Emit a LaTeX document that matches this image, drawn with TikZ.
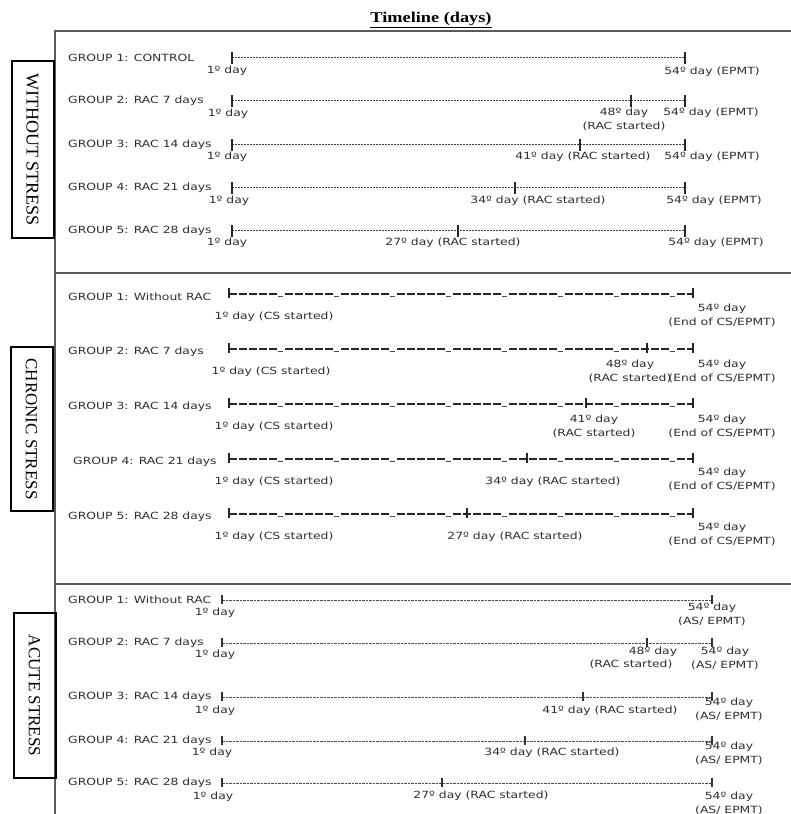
\documentclass[tikz,border=0pt]{standalone}
\usepackage{fontspec}
\setmainfont{Liberation Serif}
\newfontfamily\grpfont[FakeStretch=1.25]{DejaVu Sans}
\newfontfamily\ttlfont[FakeStretch=1.22]{Liberation Serif}
\definecolor{txtgray}{HTML}{2E2E2E}
\definecolor{framegray}{HTML}{5A5A5A}
\tikzset{grp/.style={anchor=west, inner sep=0pt, text=txtgray, font=\grpfont\fontsize{9.9}{12}\selectfont},
  daylbl/.style={inner sep=0pt, align=center, text=txtgray, font=\grpfont\fontsize{9.9}{14}\selectfont},
  sidebox/.style={draw=black, line width=2pt, rotate=-90, inner sep=0pt, minimum height=42pt, font=\fontsize{17}{17}\selectfont},
  panel/.style={draw=framegray, line width=1.5pt},
  wline/.style={draw=black!75, line width=0.6pt, dash pattern=on 2pt off 1pt},
  wtick/.style={draw=black!85, line width=2.2pt},
  cline/.style={draw=black!85, line width=1.9pt, dash pattern=on 7.5pt off 2.5pt on 7.5pt off 2.5pt on 7.5pt off 2.5pt on 7.5pt off 2.5pt on 7.5pt off 8.5pt},
  cunder/.style={draw=black!70, line width=0.9pt, dash pattern=on 5pt off 51pt, dash phase=7pt},
  ctick/.style={draw=black!85, line width=2.2pt},
  aline/.style={draw=black!70, line width=0.5pt, dash pattern=on 2.5pt off 1pt},
  atick/.style={draw=black!80, line width=1.1pt}}

\begin{document}
\begin{tikzpicture}[x=1pt, y=-1pt]
  \useasboundingbox (0,0) rectangle (791,814);
  % title and frame
  \node[inner sep=0pt, font=\ttlfont\bfseries\fontsize{15}{15}\selectfont] (title) at (431,20) {\underline{Timeline (days)}};
  \draw[panel] (55,814) -- (55,31) -- (791,31);
  \draw[panel] (55,273) -- (791,273);
  \draw[panel] (55,584) -- (791,584);
  \node[sidebox, minimum width=177pt, font=\fontsize{18}{18}\selectfont] (wbox) at (32.5,149.5) {WITHOUT STRESS};
  \node[sidebox, minimum width=164pt] (cbox) at (31.5,429) {CHRONIC STRESS};
  \node[sidebox, minimum width=165pt] (abox) at (34.5,695.5) {ACUTE STRESS};

  % without stress
  \foreach \r/\yy in {1/57,2/100,3/144,4/187,5/230}{
    \coordinate (w\r a) at (232,\yy);
    \coordinate (w\r b) at (685,\yy);
  }
  \foreach \r/\yy/\xx in {2/100/631,3/144/580,4/187/515,5/230/458}
    \coordinate (w\r m) at (\xx,\yy);
  \foreach \r in {1,...,5}
    \draw[wline] (w\r a) -- (w\r b);
  \foreach \p in {w1a,w1b,w2a,w2m,w2b,w3a,w3m,w3b,w4a,w4m,w4b,w5a,w5m,w5b}
    \draw[wtick] (\p) ++(0,-5) -- ++(0,12);
  \node[grp] (wg1) at (68,57.5) {GROUP 1: CONTROL};
  \node[grp] (wg2) at (68,100.5) {GROUP 2: RAC 7 days};
  \node[grp] (wg3) at (68,144.5) {GROUP 3: RAC 14 days};
  \node[grp] (wg4) at (68,187.5) {GROUP 4: RAC 21 days};
  \node[grp] (wg5) at (68,230.5) {GROUP 5: RAC 28 days};
  \node[daylbl] (wd1) at (227,71) {1º day};
  \node[daylbl] (wd2) at (228,114) {1º day};
  \node[daylbl] (wd3) at (227,157) {1º day};
  \node[daylbl] (wd4) at (229,201) {1º day};
  \node[daylbl] (wd5) at (227,243) {1º day};
  \node[daylbl] (we1) at (712,72) {54º day (EPMT)};
  \node[daylbl] (we2) at (711,113) {54º day (EPMT)};
  \node[daylbl] (we3) at (712,157) {54º day (EPMT)};
  \node[daylbl] (we4) at (714,201) {54º day (EPMT)};
  \node[daylbl] (we5) at (716,243) {54º day (EPMT)};
  \node[daylbl] (wm2) at (624,119.5) {48º day\\(RAC started)};
  \node[daylbl] (wm3) at (583,157) {41º day (RAC started)};
  \node[daylbl] (wm4) at (538,201) {34º day (RAC started)};
  \node[daylbl] (wm5) at (453,243) {27º day (RAC started)};

  % chronic stress
  \foreach \r/\yy in {1/294,2/349,3/404,4/459,5/514}{
    \coordinate (c\r a) at (229,\yy);
    \coordinate (c\r b) at (693,\yy);
  }
  \foreach \r/\yy/\xx in {2/349/647,3/404/586,4/459/527,5/514/467}
    \coordinate (c\r m) at (\xx,\yy);
  \foreach \r in {1,...,5}{
    \draw[cline] (c\r a) -- (c\r b);
    \draw[cunder] ([yshift=-2.5pt]c\r a) -- ([yshift=-2.5pt]c\r b);
  }
  \foreach \p in {c1a,c1b,c2a,c2m,c2b,c3a,c3m,c3b,c4a,c4m,c4b,c5a,c5m,c5b}
    \draw[ctick] (\p) ++(0,-6) -- ++(0,10);
  \node[grp] (cg1) at (68,297) {GROUP 1: Without RAC};
  \node[grp] (cg2) at (68,352) {GROUP 2: RAC 7 days};
  \node[grp] (cg3) at (68,407) {GROUP 3: RAC 14 days};
  \node[grp] (cg4) at (73,462) {GROUP 4: RAC 21 days};
  \node[grp] (cg5) at (68,517) {GROUP 5: RAC 28 days};
  \node[daylbl] (cd1) at (274,317) {1º day (CS started)};
  \node[daylbl] (cd2) at (271,372) {1º day (CS started)};
  \node[daylbl] (cd3) at (274,427) {1º day (CS started)};
  \node[daylbl] (cd4) at (274,482) {1º day (CS started)};
  \node[daylbl] (cd5) at (274,537) {1º day (CS started)};
  \node[daylbl] (ce1) at (722,315.5) {54º day\\(End of CS/EPMT)};
  \node[daylbl] (ce2) at (722,371) {54º day\\(End of CS/EPMT)};
  \node[daylbl] (ce3) at (722,426.5) {54º day\\(End of CS/EPMT)};
  \node[daylbl] (ce4) at (722,479.5) {54º day\\(End of CS/EPMT)};
  \node[daylbl] (ce5) at (722,534) {54º day\\(End of CS/EPMT)};
  \node[daylbl] (cm2) at (630,371) {48º day\\(RAC started)};
  \node[daylbl] (cm3) at (594,426.5) {41º day\\(RAC started)};
  \node[daylbl] (cm4) at (553,482) {34º day (RAC started)};
  \node[daylbl] (cm5) at (515,537) {27º day (RAC started)};

  % acute stress
  \foreach \r/\yy in {1/600,2/643,3/697,4/741,5/783}{
    \coordinate (a\r a) at (222,\yy);
    \coordinate (a\r b) at (712,\yy);
  }
  \foreach \r/\yy/\xx in {2/643/647,3/697/583,4/741/525,5/783/442}
    \coordinate (a\r m) at (\xx,\yy);
  \foreach \r in {1,...,5}
    \draw[aline] (a\r a) -- (a\r b);
  \foreach \p in {a1a,a1b,a2a,a2m,a2b,a3a,a3m,a3b,a4a,a4m,a4b,a5a,a5m,a5b}
    \draw[atick] (\p) ++(0,-5) -- ++(0,9);
  \node[grp] (ag1) at (68,600) {GROUP 1: Without RAC};
  \node[grp] (ag2) at (68,643) {GROUP 2: RAC 7 days};
  \node[grp] (ag3) at (68,697) {GROUP 3: RAC 14 days};
  \node[grp] (ag4) at (68,741) {GROUP 4: RAC 21 days};
  \node[grp] (ag5) at (68,783) {GROUP 5: RAC 28 days};
  \node[daylbl] (ad1) at (215,613) {1º day};
  \node[daylbl] (ad2) at (215,655) {1º day};
  \node[daylbl] (ad3) at (215,711) {1º day};
  \node[daylbl] (ad4) at (212,753) {1º day};
  \node[daylbl] (ad5) at (213,797) {1º day};
  \node[daylbl] (ae1) at (712,614) {54º day\\(AS/ EPMT)};
  \node[daylbl] (ae2) at (725,658.5) {54º day\\(AS/ EPMT)};
  \node[daylbl] (ae3) at (729,709) {54º day\\(AS/ EPMT)};
  \node[daylbl] (ae4) at (729,753.5) {54º day\\(AS/ EPMT)};
  \node[daylbl] (ae5) at (729,803) {54º day\\(AS/ EPMT)};
  \node[daylbl] (am2) at (653,652) {48º day};
  \node[daylbl] (am2b) at (631,664) {(RAC started)};
  \node[daylbl] (am3) at (610,711) {41º day (RAC started)};
  \node[daylbl] (am4) at (552,753) {34º day (RAC started)};
  \node[daylbl] (am5) at (481,796) {27º day (RAC started)};
\end{tikzpicture}
\end{document}
